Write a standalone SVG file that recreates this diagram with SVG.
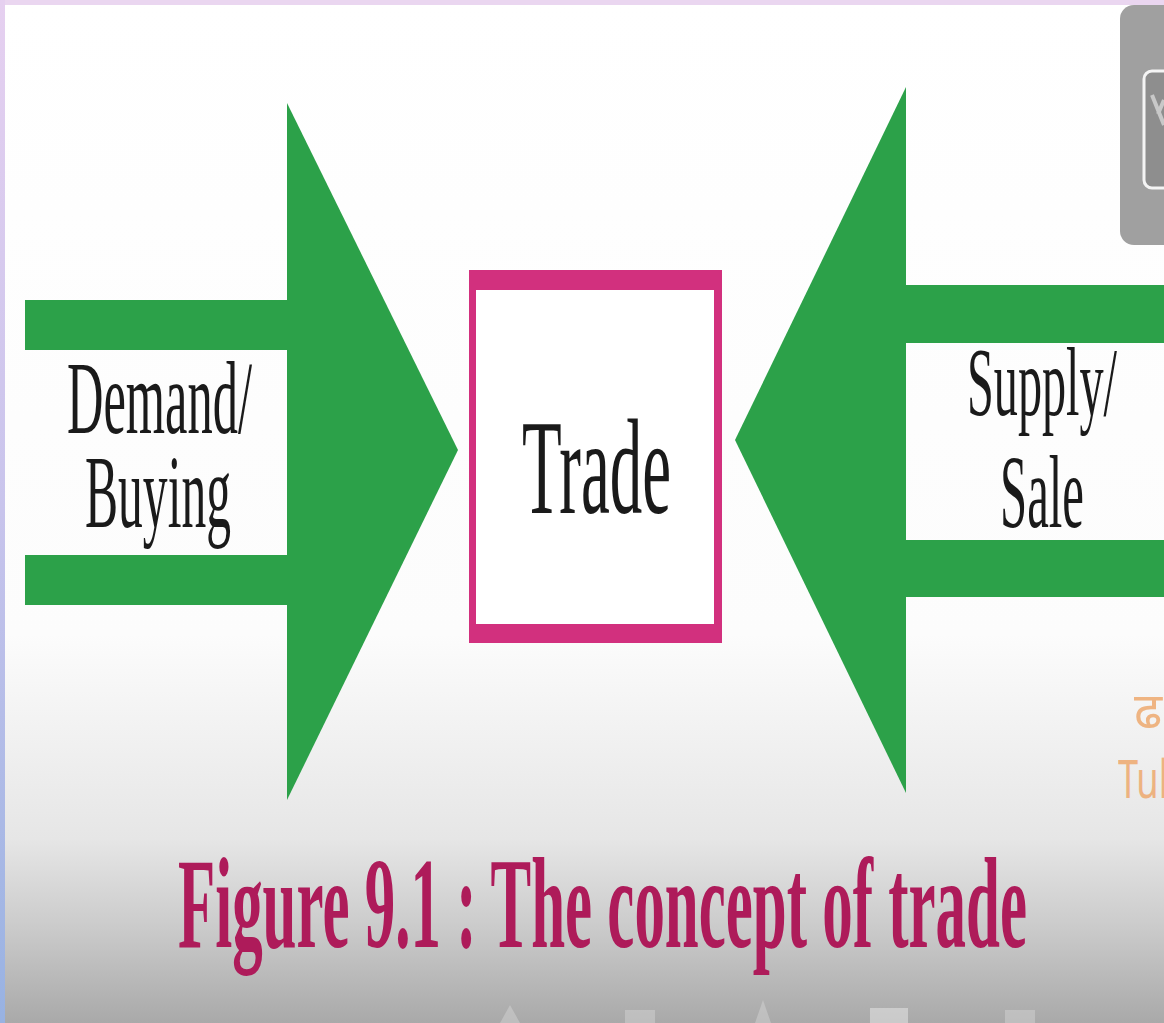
<svg xmlns="http://www.w3.org/2000/svg" width="1164" height="1023" viewBox="0 0 1164 1023">
<defs>
<linearGradient id="bg" x1="0" y1="0" x2="0" y2="1023" gradientUnits="userSpaceOnUse">
<stop offset="0" stop-color="#ffffff"/>
<stop offset="0.62" stop-color="#fcfcfc"/>
<stop offset="0.82" stop-color="#e6e6e6"/>
<stop offset="0.9" stop-color="#cdcdcd"/>
<stop offset="1" stop-color="#a9a9a9"/>
</linearGradient>
<linearGradient id="lb" x1="0" y1="0" x2="0" y2="1023" gradientUnits="userSpaceOnUse">
<stop offset="0" stop-color="#e6d0f0"/>
<stop offset="0.5" stop-color="#c8c4ec"/>
<stop offset="1" stop-color="#98b2e2"/>
</linearGradient>
<style>
.arrow{fill:#2ca149}
.lbl{font-family:"Liberation Serif","Times New Roman",serif;fill:#1a1a1a}
.cap{font-family:"Liberation Serif","Times New Roman",serif;font-weight:bold;fill:#ae1b5a}
</style>
</defs>
<rect x="0" y="0" width="1164" height="1023" fill="url(#bg)"/>
<rect x="0" y="0" width="1164" height="5" fill="#ead6f0"/>
<rect x="0" y="0" width="5" height="1023" fill="url(#lb)"/>

<g id="connectors">
<g id="demand-arrow">
<rect class="arrow" x="25" y="300" width="265" height="50"/>
<rect class="arrow" x="25" y="555" width="265" height="50"/>
<polygon class="arrow" points="287,103 458,450 287,800"/>
</g>
<g id="supply-arrow">
<rect class="arrow" x="903" y="285" width="261" height="58"/>
<rect class="arrow" x="903" y="540" width="261" height="57"/>
<polygon class="arrow" points="906,87 735,440 906,793"/>
</g>
</g>

<g id="demand-label">
<text class="lbl" x="67" y="433" font-size="104" textLength="185" lengthAdjust="spacingAndGlyphs">Demand/</text>
<text class="lbl" x="85" y="527" font-size="104" textLength="146" lengthAdjust="spacingAndGlyphs">Buying</text>
</g>
<g id="supply-label">
<text class="lbl" x="967" y="415" font-size="98" textLength="150" lengthAdjust="spacingAndGlyphs">Supply/</text>
<text class="lbl" x="1000" y="527" font-size="104" textLength="84" lengthAdjust="spacingAndGlyphs">Sale</text>
</g>

<g id="trade">
<rect x="469" y="270" width="253" height="373" fill="#ffffff"/>
<rect x="469" y="270" width="253" height="20" fill="#d2307e"/>
<rect x="469" y="624" width="253" height="19" fill="#d2307e"/>
<rect x="469" y="270" width="7" height="373" fill="#d2307e"/>
<rect x="714" y="270" width="8" height="373" fill="#d2307e"/>
<text class="lbl" x="522" y="513" font-size="136" textLength="149" lengthAdjust="spacingAndGlyphs">Trade</text>
</g>

<g id="overlay-button">
<rect x="1120" y="5" width="60" height="240" rx="14" fill="#a0a0a0"/>
<rect x="1144" y="71" width="30" height="117" rx="8" fill="#8e8e8e" stroke="#f4f4f4" stroke-width="3"/>
<path d="M1152,95 L1164,125 M1164,100 L1158,114" stroke="#c8c8c8" stroke-width="4" fill="none"/>
</g>

<g id="watermark" font-family="'Noto Sans','DejaVu Sans',sans-serif" fill="#eea566" opacity="0.8">
<text x="1134" y="728" font-size="50">ढ</text>
<text x="1118" y="798" font-size="52" textLength="50" lengthAdjust="spacingAndGlyphs">Tul</text>
</g>

<g id="caption">
<text class="cap" x="178" y="947" font-size="130" textLength="849" lengthAdjust="spacingAndGlyphs">Figure 9.1 : The concept of trade</text>
</g>

<g id="controls" fill="#d8d8d8" opacity="0.45">
<polygon points="500,1023 510,1005 520,1023"/>
<rect x="625" y="1010" width="30" height="13"/>
<polygon points="755,1023 763,1000 771,1023"/>
<rect x="870" y="1008" width="38" height="15" fill="#f2f2f2"/>
<rect x="1005" y="1010" width="30" height="13"/>
</g>
</svg>
